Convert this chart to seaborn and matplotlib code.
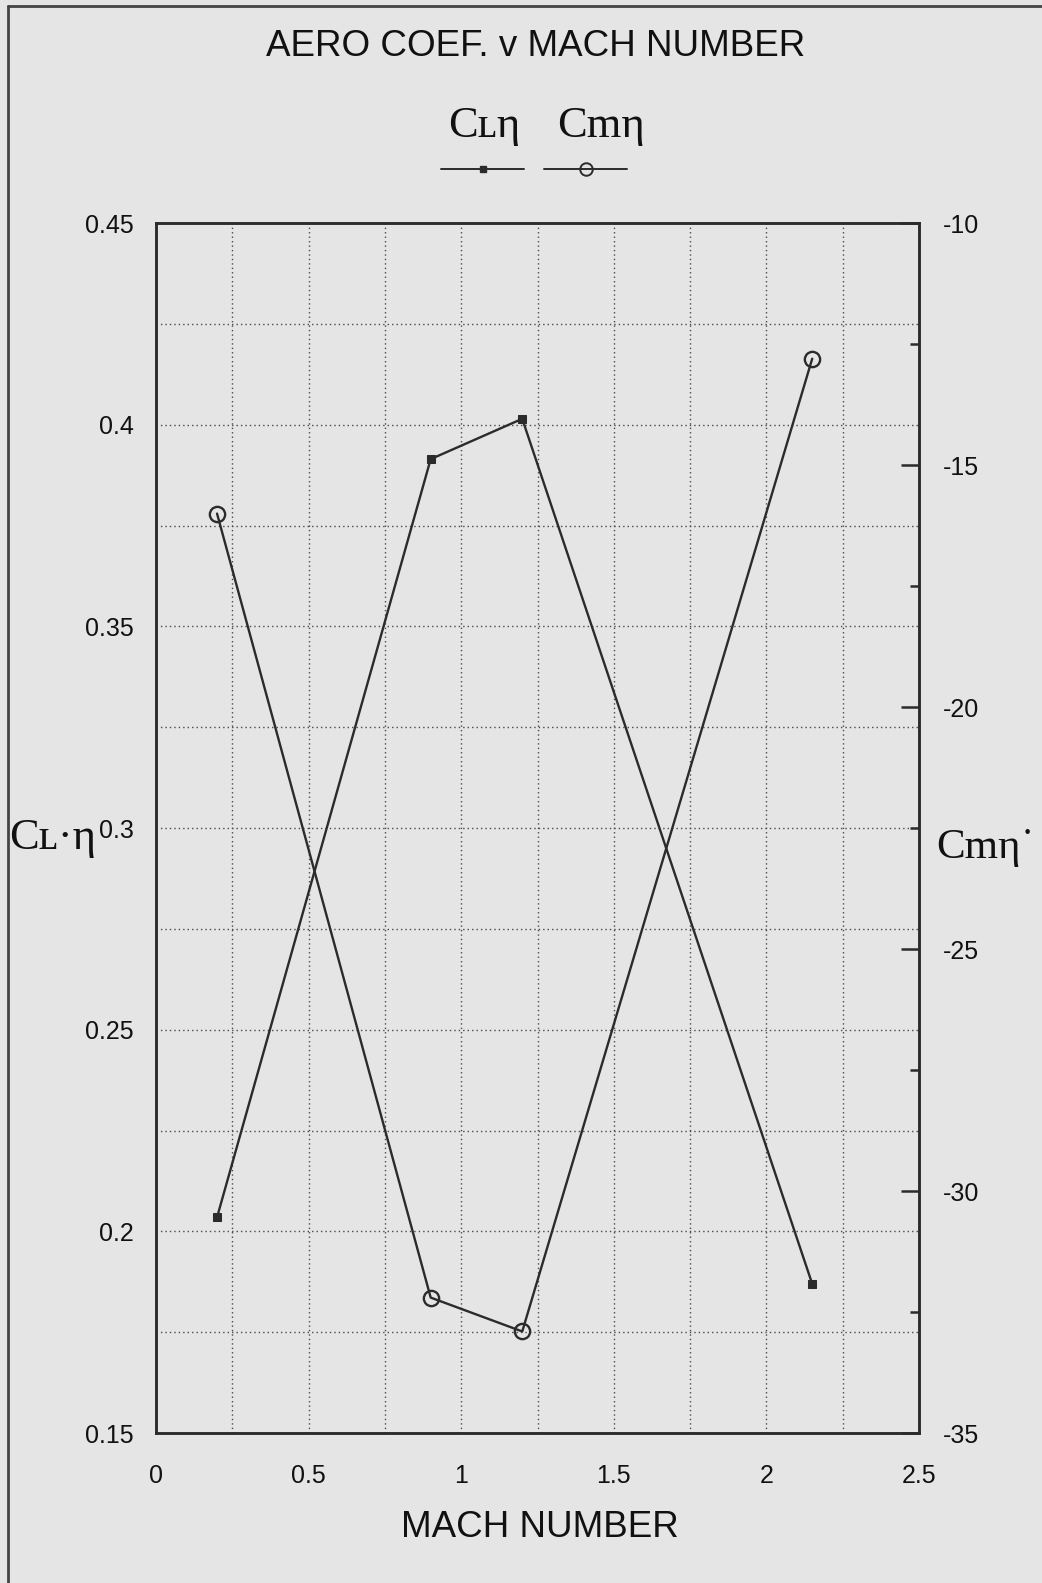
import numpy as np
import pandas as pd
import matplotlib
matplotlib.use("Agg")
import matplotlib.pyplot as plt
from matplotlib.lines import Line2D
from matplotlib.ticker import MultipleLocator, FixedLocator, FixedFormatter
import seaborn as sns

# ---- data ----
mach = [0.2, 0.9, 1.2, 2.15]
cl_eta = [0.2035, 0.3915, 0.4015, 0.1870]
cm_eta = [-16.0, -32.2, -32.9, -12.8]

x_ticks = [0, 0.5, 1, 1.5, 2, 2.5]
x_labels = ["0", "0.5", "1", "1.5", "2", "2.5"]
yl_ticks = [0.15, 0.2, 0.25, 0.3, 0.35, 0.4, 0.45]
yl_labels = ["0.15", "0.2", "0.25", "0.3", "0.35", "0.4", "0.45"]
yr_ticks = [-35, -30, -25, -20, -15, -10]
yr_labels = ["-35", "-30", "-25", "-20", "-15", "-10"]

title = "AERO COEF. v MACH NUMBER"
xlabel = "MACH NUMBER"
name_cl = "Cʟη"
name_cm = "Cmη"
ylabel_left = "Cʟ·η"
ylabel_right = "Cmη˙"

df = pd.DataFrame({"mach": mach, "cl": cl_eta, "cm": cm_eta})

sns.set_theme(style="white")
BG = "#e5e5e5"
INK = "#2b2b2b"
plt.rcParams["font.family"] = ["Liberation Sans", "DejaVu Sans"]
serif = ["Liberation Serif", "DejaVu Serif"]
sans = ["Liberation Sans", "DejaVu Sans"]

fig = plt.figure(figsize=(10.42, 15.83), dpi=100, facecolor=BG)
ax = fig.add_axes([0.1497, 0.0947, 0.7323, 0.7643])
ax.set_facecolor(BG)
ax2 = ax.twinx()

sns.lineplot(data=df, x="mach", y="cl", ax=ax, color=INK, lw=1.7,
             marker="s", markersize=6, markerfacecolor=INK, markeredgecolor=INK)
sns.lineplot(data=df, x="mach", y="cm", ax=ax2, color=INK, lw=1.7,
             marker="o", markersize=11, markerfacecolor="none",
             markeredgecolor=INK, markeredgewidth=1.7)

ax.set_xlim(0, 2.5)
ax.set_ylim(0.15, 0.45)
ax2.set_ylim(-35, -10)

ax.xaxis.set_major_locator(FixedLocator(x_ticks))
ax.xaxis.set_major_formatter(FixedFormatter(x_labels))
ax.xaxis.set_minor_locator(MultipleLocator(0.25))
ax.yaxis.set_major_locator(FixedLocator(yl_ticks))
ax.yaxis.set_major_formatter(FixedFormatter(yl_labels))
ax.yaxis.set_minor_locator(MultipleLocator(0.025))
ax2.yaxis.set_major_locator(FixedLocator(yr_ticks))
ax2.yaxis.set_major_formatter(FixedFormatter(yr_labels))
ax2.yaxis.set_minor_locator(MultipleLocator(2.5))

grid_kw = dict(color="#4a4a4a", lw=1.0, linestyle=(0, (1, 2.2)))
ax.grid(True, which="both", axis="both", **grid_kw)
ax2.grid(False)

ax.tick_params(axis="both", which="both", length=0, labelsize=18, colors="#111111")
ax.tick_params(axis="x", pad=22)
ax.tick_params(axis="y", pad=16)
ax2.tick_params(axis="y", which="major", direction="in", length=13, width=1.8,
                color=INK, labelsize=18, labelcolor="#111111", pad=17)
ax2.tick_params(axis="y", which="minor", direction="in", length=6.5, width=1.8, color=INK)

for a in (ax, ax2):
    for s in a.spines.values():
        s.set_color(INK)
        s.set_linewidth(1.8)

ax.set_xlabel(xlabel, fontsize=26.5, family=sans, color="#111111")
ax.xaxis.set_label_coords(0.503, -0.078)
ax.xaxis.label.set_va("center")
ax.set_ylabel(ylabel_left, fontsize=32, family=serif, rotation=0, color="#111111")
ax.yaxis.set_label_coords(-0.135, 0.492)
ax.yaxis.label.set_va("center")
ax.yaxis.label.set_ha("center")
ax2.set_ylabel(ylabel_right, fontsize=31, family=serif, rotation=0, color="#111111")
ax2.yaxis.set_label_coords(1.087, 0.484)
ax2.yaxis.label.set_va("center")
ax2.yaxis.label.set_ha("center")

fig.text(0.514, 1 - 47 / 1583, title, fontsize=26.5, family=sans,
         ha="center", va="center", color="#111111")
fig.text(484 / 1042, 1 - 126 / 1583, name_cl, fontsize=32, family=serif,
         ha="center", va="center", color="#111111")
fig.text(601 / 1042, 1 - 126 / 1583, name_cm, fontsize=32, family=serif,
         ha="center", va="center", color="#111111")

h1 = Line2D([], [], color=INK, lw=1.4, marker="s", markersize=5)
h2 = Line2D([], [], color=INK, lw=1.4, marker="o", markersize=9,
            markerfacecolor="none", markeredgewidth=1.4)
fig.legend(handles=[h1, h2], labels=["", ""], ncol=2, frameon=False,
           loc="center", bbox_to_anchor=(539 / 1042, 1 - 170 / 1583),
           fontsize=10, handlelength=6, handletextpad=0.7, columnspacing=0.7)

# scan frame (left and top edges)
fig.add_artist(Line2D([8 / 1042, 8 / 1042], [0, 1 - 6 / 1583],
                      transform=fig.transFigure, color="#444444", lw=2))
fig.add_artist(Line2D([8 / 1042, 1], [1 - 6 / 1583, 1 - 6 / 1583],
                      transform=fig.transFigure, color="#444444", lw=2))

fig.savefig("out.png", dpi=100, facecolor=BG)
